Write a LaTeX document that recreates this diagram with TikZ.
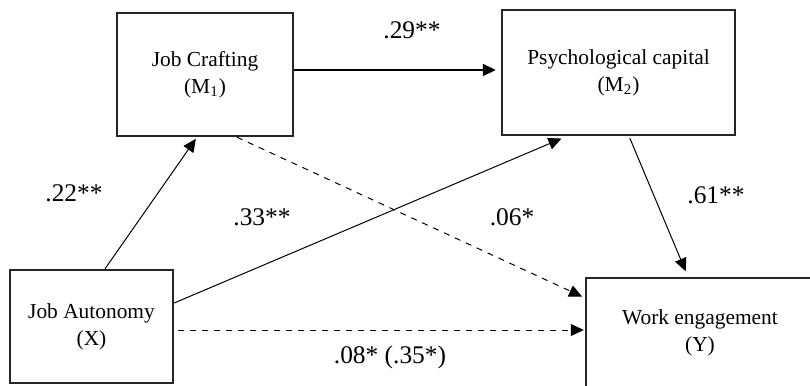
\documentclass[tikz,border=0pt]{standalone}
\usepackage{fontspec}
\setmainfont{Liberation Serif}
\usetikzlibrary{arrows.meta}
\tikzset{
  varbox/.style n args={2}{draw=black!85, line width=1.2pt, minimum width=#1,
              minimum height=#2, align=center, inner sep=2pt,
              font=\fontsize{10.7}{13.5}\selectfont},
  arr/.style={-{Triangle[length=6.5pt, width=6pt]}, line width=0.5pt},
  coef/.style={font=\fontsize{12.7}{14}\selectfont, inner sep=0pt},
}
\begin{document}
\begin{tikzpicture}[x=0.5pt, y=-0.5pt]
  \useasboundingbox (0,0) rectangle (810,386);
  \node[varbox={88pt}{61.5pt}]   (M1) at (205,74.5)  {Job Crafting\\(M\textsubscript{1})};
  \node[varbox={116.5pt}{62.5pt}] (M2) at (618.5,72.5) {Psychological capital\\(M\textsubscript{2})};
  \node[varbox={81.5pt}{56.5pt}] (X)  at (91.5,326.5) {Job Autonomy\\(X)};
  \node[varbox={114pt}{55pt}]    (Y)  at (700,333)   {Work engagement\\(Y)};

  \draw[arr, line width=0.9pt, shorten >=2.5pt] ([yshift=2.25pt]M1.east) -- ([yshift=1.25pt]M2.west);
  \draw[arr, shorten >=1pt] ([xshift=6.75pt]X.north) -- ([xshift=-4pt]M1.south);
  \draw[arr, shorten >=3pt] ([yshift=11.75pt]X.east) -- ([xshift=-25.75pt]M2.south);
  \draw[arr, dashed, shorten >=1.5pt] ([xshift=16pt]M1.south) -- ([yshift=-10.5pt]Y.north west);
  \draw[arr, dashed, shorten <=2pt, shorten >=0.5pt] ([yshift=-1.75pt]X.east) -- ([yshift=1.5pt]Y.west);
  \draw[arr, shorten <=1pt, shorten >=3pt] ([xshift=5.25pt]M2.south) -- ([xshift=-6pt]Y.north);

  \node[coef] (c12) at (412,30)  {.29**};
  \node[coef] (cx1) at (74,193)  {.22**};
  \node[coef] (cx2) at (262,217) {.33**};
  \node[coef] (c1y) at (512,217) {.06*};
  \node[coef] (c2y) at (716,195) {.61**};
  \node[coef] (cxy) at (390,357) {.08* (.35*)};
\end{tikzpicture}
\end{document}
